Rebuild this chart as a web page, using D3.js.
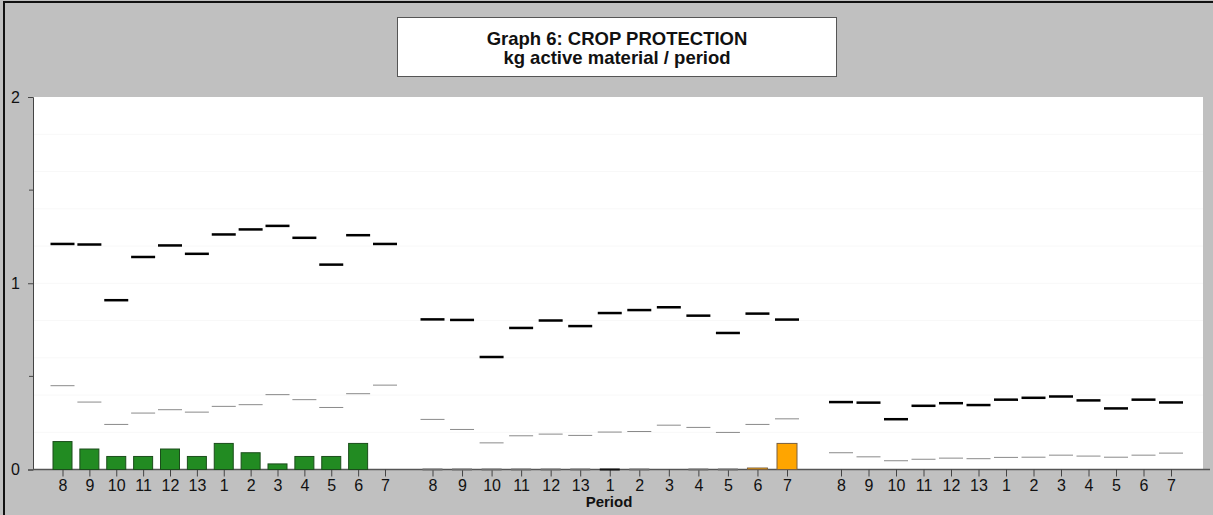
<!DOCTYPE html>
<html lang="en">

<head>
  <meta charset="UTF-8">
  <title>Graph 6: CROP PROTECTION</title>
  <script src="https://cdn.jsdelivr.net/npm/d3@7"></script>
  <style>
    html, body { margin: 0; padding: 0; background: #c0c0c0; }
    svg { display: block; font-family: "Liberation Sans", Arial, sans-serif; }
  </style>
</head>

<body>
  <svg id="chart"></svg>
</body>

</html>
<script>
  const width = 1213, height = 515;

  // periods repeat in each of the three blocks
  const periods = ['8', '9', '10', '11', '12', '13', '1', '2', '3', '4', '5', '6', '7'];
  const yTicks = [0, 1, 2];
  const yMinorTicks = [0.5, 1.5];

  // block 1: green bars (null = no bar)
  const bars1 = [0.15, 0.11, 0.07, 0.07, 0.11, 0.07, 0.14, 0.09, 0.03, 0.07, 0.07, 0.14, null];
  const high1 = [1.211, 1.208, 0.909, 1.141, 1.203, 1.158, 1.262, 1.289, 1.308, 1.244, 1.10, 1.258, 1.211];
  const low1 = [0.45, 0.362, 0.242, 0.303, 0.321, 0.308, 0.339, 0.348, 0.402, 0.375, 0.333, 0.407, 0.453];

  // block 2: orange bars
  const bars2 = [0, 0, 0, 0, 0, 0, 0, 0, null, 0, 0, 0.008, 0.14];
  const high2 = [0.806, 0.803, 0.604, 0.760, 0.800, 0.770, 0.840, 0.856, 0.871, 0.826, 0.733, 0.837, 0.805];
  const low2 = [0.269, 0.215, 0.143, 0.181, 0.190, 0.183, 0.201, 0.204, 0.238, 0.226, 0.199, 0.242, 0.272];

  // block 3: no bars
  const high3 = [0.362, 0.359, 0.270, 0.342, 0.356, 0.346, 0.375, 0.385, 0.392, 0.371, 0.328, 0.375, 0.360];
  const low3 = [0.090, 0.068, 0.047, 0.055, 0.061, 0.058, 0.065, 0.066, 0.077, 0.072, 0.066, 0.077, 0.088];

  const plot = { left: 33, right: 1203, top: 97, bottom: 469.5 };

  const svg = d3.select('#chart').attr('width', width).attr('height', height);

  // grey background + frame
  svg.append('rect')
    .attr('x', 0).attr('y', 0)
    .attr('width', width).attr('height', height)
    .attr('fill', '#c0c0c0');
  svg.append('path')
    .attr('d', `M4,${height} V2 H${width}`)
    .attr('fill', 'none')
    .attr('stroke', '#111')
    .attr('stroke-width', 2);

  // white plot area
  svg.append('rect')
    .attr('x', plot.left).attr('y', plot.top)
    .attr('width', plot.right - plot.left)
    .attr('height', plot.bottom - plot.top)
    .attr('fill', '#fff');

  const y = d3.scaleLinear().domain([0, 2]).range([plot.bottom, plot.top]);

  // very faint gridlines
  svg.append('g')
    .selectAll('line')
    .data(d3.range(0.2, 2, 0.2))
    .join('line')
    .attr('x1', plot.left).attr('x2', plot.right)
    .attr('y1', d => y(d)).attr('y2', d => y(d))
    .attr('stroke', '#f8f8f8')
    .attr('stroke-width', 1);

  // y axis
  const yAxis = svg.append('g')
    .attr('transform', `translate(${plot.left},0)`)
    .call(d3.axisLeft(y).tickValues(yTicks).tickFormat(d3.format('d')).tickSize(5).tickPadding(8));
  yAxis.select('.domain').attr('stroke', '#444');
  yAxis.selectAll('.tick line').attr('stroke', '#444');
  yAxis.selectAll('.tick text').attr('font-size', 16).attr('fill', '#111')
    .attr('font-family', '"Liberation Sans", Arial, sans-serif');
  yAxis.append('g')
    .selectAll('line')
    .data(yMinorTicks)
    .join('line')
    .attr('x1', -4).attr('x2', 0)
    .attr('y1', d => y(d)).attr('y2', d => y(d))
    .attr('stroke', '#444');

  // x axis baseline
  svg.append('line')
    .attr('x1', plot.left).attr('x2', 1210)
    .attr('y1', plot.bottom).attr('y2', plot.bottom)
    .attr('stroke', '#555')
    .attr('stroke-width', 1.5);

  const blocks = [
    { range: [62.5, 385], bars: bars1, high: high1, low: low1, fill: '#228b22', stroke: '#1b4d1b', barW: 19 },
    { range: [432.5, 787], bars: bars2, high: high2, low: low2, fill: '#ffa500', stroke: '#7a6040', barW: 20 },
    { range: [841, 1171], bars: null, high: high3, low: low3 },
  ];

  const dashW = 24;

  blocks.forEach(b => {
    const x = d3.scalePoint().domain(periods).range(b.range);

    const xAxis = svg.append('g')
      .attr('transform', `translate(0,${plot.bottom})`)
      .call(d3.axisBottom(x).tickSize(7).tickPadding(3));
    xAxis.select('.domain').remove();
    xAxis.selectAll('.tick line').attr('stroke', '#444');
    xAxis.selectAll('.tick text').attr('font-size', 16).attr('fill', '#111')
      .attr('font-family', '"Liberation Sans", Arial, sans-serif');

    if (b.bars) {
      const rows = periods.map((p, i) => ({ p, v: b.bars[i] })).filter(d => d.v !== null);
      svg.append('g')
        .selectAll('rect')
        .data(rows.filter(d => d.v > 0))
        .join('rect')
        .attr('x', d => x(d.p) - b.barW / 2)
        .attr('y', d => y(d.v))
        .attr('width', b.barW)
        .attr('height', d => y(0) - y(d.v))
        .attr('fill', b.fill)
        .attr('stroke', b.stroke)
        .attr('stroke-width', 1);
      // zero values show as a flat bar on the axis
      svg.append('g')
        .selectAll('line')
        .data(rows.filter(d => d.v === 0))
        .join('line')
        .attr('x1', d => x(d.p) - b.barW / 2)
        .attr('x2', d => x(d.p) + b.barW / 2)
        .attr('y1', y(0)).attr('y2', y(0))
        .attr('stroke', d => d.p === '1' ? '#111' : '#707070')
        .attr('stroke-width', 2);
    }

    // thin grey reference dashes
    svg.append('g')
      .selectAll('line')
      .data(periods.map((p, i) => ({ p, v: b.low[i] })))
      .join('line')
      .attr('x1', d => x(d.p) - dashW / 2)
      .attr('x2', d => x(d.p) + dashW / 2)
      .attr('y1', d => y(d.v)).attr('y2', d => y(d.v))
      .attr('stroke', '#8a8a8a')
      .attr('stroke-width', 1);

    // thick black reference dashes
    svg.append('g')
      .selectAll('line')
      .data(periods.map((p, i) => ({ p, v: b.high[i] })))
      .join('line')
      .attr('x1', d => x(d.p) - dashW / 2)
      .attr('x2', d => x(d.p) + dashW / 2)
      .attr('y1', d => y(d.v)).attr('y2', d => y(d.v))
      .attr('stroke', '#000')
      .attr('stroke-width', 2.5);
  });

  // x axis title
  svg.append('text')
    .attr('x', 609).attr('y', 507)
    .attr('text-anchor', 'middle')
    .attr('font-size', 15)
    .attr('font-weight', 'bold')
    .attr('fill', '#111')
    .text('Period');

  // title box
  svg.append('rect')
    .attr('x', 397.5).attr('y', 17.5)
    .attr('width', 439).attr('height', 59)
    .attr('fill', '#fff')
    .attr('stroke', '#555')
    .attr('stroke-width', 1);
  const title = svg.append('text')
    .attr('text-anchor', 'middle')
    .attr('font-size', 18.5)
    .attr('font-weight', 'bold')
    .attr('fill', '#111');
  title.append('tspan').attr('x', 617).attr('y', 45).text('Graph 6: CROP PROTECTION');
  title.append('tspan').attr('x', 617).attr('y', 64).text('kg active material / period');
</script>
